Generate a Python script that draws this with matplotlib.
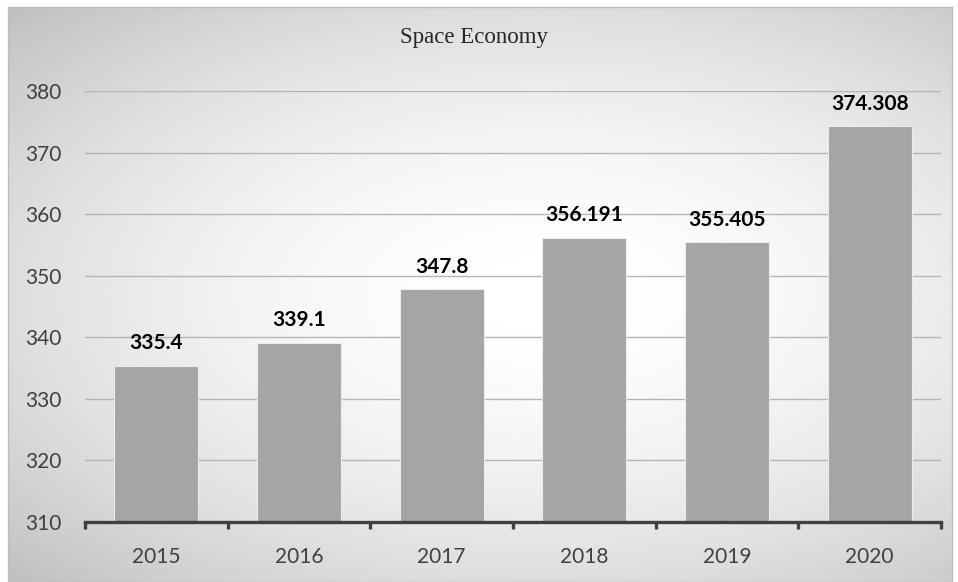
import numpy as np
import matplotlib.pyplot as plt

years = ['2015', '2016', '2017', '2018', '2019', '2020']
values = [335.4, 339.1, 347.8, 356.191, 355.405, 374.308]
value_labels = ['335.4', '339.1', '347.8', '356.191', '355.405', '374.308']

W, H = 958, 582
fig = plt.figure(figsize=(W / 100, H / 100), dpi=100)
fig.patch.set_facecolor('white')

# radial grey background of the chart area, white in the middle
bg = fig.add_axes([8 / W, 0, (952 - 8) / W, (H - 7) / H], zorder=-5)
gx, gy = np.meshgrid(np.linspace(0, 1, 400), np.linspace(0, 1, 300))
r = np.sqrt(((gx - 0.57) / 0.57) ** 2 + ((gy - 0.5) / 0.5) ** 2) / np.sqrt(2)
shade = 1.0 - 0.25 * np.clip(r, 0, 1.2) ** 1.8
bg.imshow(shade, cmap='gray', vmin=0, vmax=1, aspect='auto', origin='upper',
          extent=[0, 1, 0, 1], interpolation='bilinear')
bg.set_xticks([])
bg.set_yticks([])
for s in bg.spines.values():
    s.set_color('#bdbdbd')
    s.set_linewidth(1)

ax = fig.add_axes([85 / W, 1 - 522 / H, (941 - 85) / W, (522 - 91) / H])
ax.patch.set_alpha(0)

x = np.arange(len(years))
ax.bar(x, values, width=0.59, color='#a5a5a5',
       edgecolor='#ececec', linewidth=0.8, zorder=3)

for xi, v, lab in zip(x, values, value_labels):
    ax.annotate(lab, (xi, v), xytext=(0, 9), textcoords='offset points',
                ha='center', va='bottom', fontsize=15, fontweight='bold',
                family='Lato', color='black')

ax.set_xlim(-0.5, len(years) - 0.5)
ax.set_ylim(310, 380)
ax.set_yticks(np.arange(310, 381, 10))
ax.yaxis.grid(True, color='#b5b5b5', linewidth=1, zorder=0)
ax.set_axisbelow(True)

for side in ['top', 'right', 'left']:
    ax.spines[side].set_visible(False)
ax.spines['bottom'].set_color('#404040')
ax.spines['bottom'].set_linewidth(2.4)
ax.spines['bottom'].set_zorder(4)

ax.set_xticks(x)
ax.set_xticklabels(years)
ax.set_xticks(np.arange(-0.5, len(years)), minor=True)
ax.tick_params(axis='x', which='major', length=0, pad=18, labelsize=15,
               labelcolor='#404040')
ax.tick_params(axis='x', which='minor', length=5, width=2.4, color='#404040',
               direction='out')
ax.tick_params(axis='y', length=0, pad=17, labelsize=15, labelcolor='#404040')
for t in ax.get_xticklabels() + ax.get_yticklabels():
    t.set_family('Lato')

fig.text(474 / W, 1 - 38 / H, 'Space Economy', ha='center', va='center',
         fontsize=16.5, family='Liberation Serif', color='#262626')

fig.savefig('out.png', dpi=100)
